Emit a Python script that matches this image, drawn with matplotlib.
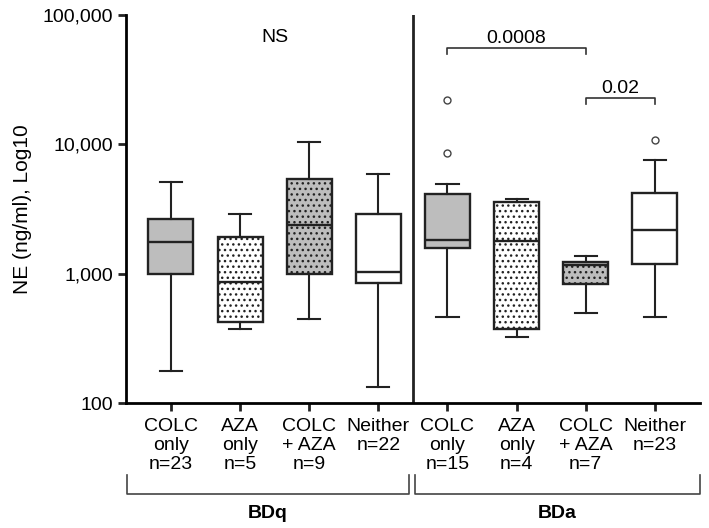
import numpy as np
import matplotlib
matplotlib.use("Agg")
import matplotlib.pyplot as plt

plt.rcParams['font.family'] = ['Liberation Sans', 'DejaVu Sans']
plt.rcParams['hatch.linewidth'] = 1.0
plt.rcParams['hatch.color'] = '#333333'

# box statistics (ng/ml)
labels = ['COLC\nonly\nn=23', 'AZA\nonly\nn=5', 'COLC\n+ AZA\nn=9', 'Neither\nn=22',
          'COLC\nonly\nn=15', 'AZA\nonly\nn=4', 'COLC\n+ AZA\nn=7', 'Neither\nn=23']
whislo = [176, 373, 446, 133, 461, 323, 496, 461]
q1 = [993, 422, 993, 846, 1578, 373, 831, 1187]
med = [1755, 861, 2377, 1028, 1820, 1787, 1166, 2175]
q3 = [2640, 1920, 5390, 2890, 4130, 3580, 1230, 4200]
whishi = [5110, 2890, 10400, 5890, 4930, 3776, 1368, 7560]
fliers = [[], [], [], [], [22000, 8570], [], [], [10800]]
fills = ['#bdbdbd', 'white', '#bdbdbd', 'white', '#bdbdbd', 'white', '#bdbdbd', 'white']
hatches = ['', '...', '...', '', '', '...', '...', '']

groups = ['BDq', 'BDa']

stats = []
for i in range(len(labels)):
    stats.append(dict(med=med[i], q1=q1[i], q3=q3[i], whislo=whislo[i],
                      whishi=whishi[i], fliers=fliers[i]))

fig = plt.figure(figsize=(7.09, 5.28), dpi=100)
ax = fig.add_axes([0.1777, 0.2367, 0.8093, 0.7349])

pos = np.arange(1, len(labels) + 1)
bp = ax.bxp(stats, positions=pos, widths=0.65, patch_artist=True,
            boxprops=dict(linewidth=1.7, edgecolor='#222222'),
            medianprops=dict(color='#222222', linewidth=1.7),
            whiskerprops=dict(color='#222222', linewidth=1.5),
            capprops=dict(color='#222222', linewidth=1.5),
            flierprops=dict(marker='o', markersize=5, markerfacecolor='white',
                            markeredgecolor='#444444', markeredgewidth=1.0))
for box, fc, h in zip(bp['boxes'], fills, hatches):
    box.set_facecolor(fc)
    box.set_hatch(h)
for cap in bp['caps']:
    c = cap.get_xdata().mean()
    cap.set_xdata([c - 0.16, c + 0.16])

ax.set_yscale('log')
ax.set_ylim(100, 100000)
ax.set_xlim(0.35, 8.65)
ax.set_yticks([100, 1000, 10000, 100000])
ax.set_yticklabels(['100', '1,000', '10,000', '100,000'])
ax.yaxis.set_minor_locator(matplotlib.ticker.NullLocator())
ax.set_xticks(pos)
ax.set_xticklabels(labels, linespacing=1.15)
ax.tick_params(axis='both', labelsize=14, width=2, length=6, color='#222222')
ax.tick_params(axis='x', pad=5)
ax.tick_params(axis='y', pad=3)
for s in ['top', 'right']:
    ax.spines[s].set_visible(False)
for s in ['left', 'bottom']:
    ax.spines[s].set_linewidth(2)
ax.axvline(4.5, color='#222222', linewidth=2)
ax.set_ylabel('NE (ng/ml), Log10', fontsize=15, labelpad=8)

# significance annotations
ax.text(2.5, 66400, 'NS', ha='center', va='center', fontsize=14)
ax.plot([5, 5, 7, 7], [49900, 55600, 55600, 49900], color='#333333', lw=1.2)
ax.text(6, 57000, '0.0008', ha='center', va='bottom', fontsize=14)
ax.plot([7, 7, 8, 8], [20500, 22800, 22800, 20500], color='#333333', lw=1.2)
ax.text(7.5, 23400, '0.02', ha='center', va='bottom', fontsize=14)

# group brackets below the axis
tr = ax.get_xaxis_transform()
for (x0, x1), g in zip([(0.364, 4.442), (4.529, 8.651)], groups):
    ax.plot([x0, x0, x1, x1], [-0.186, -0.2345, -0.2345, -0.186], color='#444444',
            lw=1.2, transform=tr, clip_on=False)
    ax.text((x0 + x1) / 2, -0.284, g, ha='center', va='center', fontsize=14,
            fontweight='bold', transform=tr)

fig.savefig('out.png', dpi=100)
